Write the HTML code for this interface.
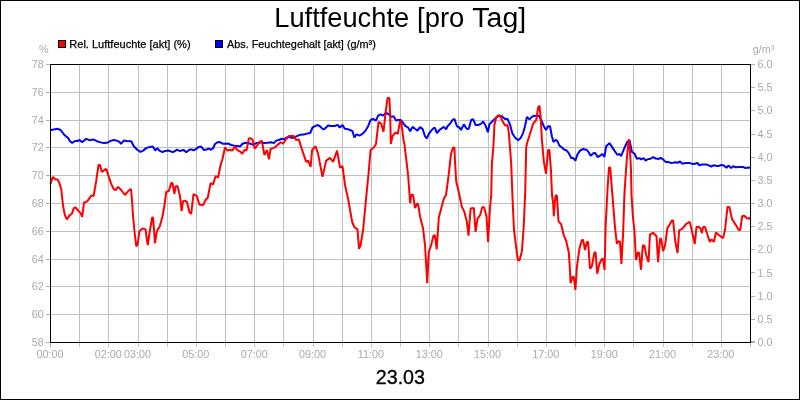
<!DOCTYPE html><html><head><meta charset="utf-8"><title>Luftfeuchte</title><style>html,body{margin:0;padding:0;background:#fff}svg{display:block;will-change:transform}text{font-family:"Liberation Sans",sans-serif}</style></head><body>
<svg width="800" height="400" viewBox="0 0 800 400">
<rect x="0" y="0" width="800" height="400" fill="#fff"/>
<rect x="0.5" y="0.5" width="799" height="399" fill="none" stroke="#000" stroke-width="1" shape-rendering="crispEdges"/>
<path d="M79.5 64V347M108.5 64V347M138.5 64V347M167.5 64V347M196.5 64V347M225.5 64V347M254.5 64V347M283.5 64V347M313.5 64V347M342.5 64V347M371.5 64V347M400.5 64V347M429.5 64V347M458.5 64V347M488.5 64V347M517.5 64V347M546.5 64V347M575.5 64V347M604.5 64V347M633.5 64V347M663.5 64V347M692.5 64V347M721.5 64V347M50 314.5H750M50 286.5H750M50 259.5H750M50 231.5H750M50 203.5H750M50 175.5H750M50 147.5H750M50 120.5H750M50 92.5H750" stroke="#c0c0c0" stroke-width="1" fill="none" shape-rendering="crispEdges"/>
<path d="M46 342.5H50M46 314.5H50M46 286.5H50M46 259.5H50M46 231.5H50M46 203.5H50M46 175.5H50M46 147.5H50M46 120.5H50M46 92.5H50M46 64.5H50M751 342.5H755M751 319.5H755M751 296.5H755M751 272.5H755M751 249.5H755M751 226.5H755M751 203.5H755M751 180.5H755M751 157.5H755M751 134.5H755M751 110.5H755M751 87.5H755M751 64.5H755M751 341.5H755M50.5 342V347M750.5 342V347" stroke="#b0b0b0" stroke-width="1" fill="none" shape-rendering="crispEdges"/>
<polyline points="50.5,130.2 51.0,130.0 57.8,128.8 60.6,130.0 64.4,135.0 68.1,138.1 70.0,141.2 72.2,142.9 75.0,141.0 77.5,141.0 79.6,140.0 82.2,142.2 86.2,138.8 89.8,140.4 91.9,139.8 94.4,139.8 96.9,141.2 100.0,142.1 103.8,143.1 106.9,142.8 111.2,140.6 113.8,140.0 117.5,140.9 119.4,141.9 121.0,143.8 123.8,140.6 126.9,141.0 131.2,141.2 133.8,146.2 137.5,150.0 140.6,151.9 143.1,150.6 146.2,148.1 150.0,146.9 152.8,146.6 155.2,150.6 157.2,148.1 159.4,150.6 162.5,152.1 165.0,150.9 168.8,150.6 172.5,152.1 174.4,151.5 176.9,149.6 179.4,151.0 183.8,150.0 186.2,152.2 189.0,150.0 191.2,149.4 193.5,150.2 195.6,149.4 198.8,146.9 201.2,146.6 203.8,150.0 206.9,149.4 208.8,148.5 211.0,149.8 213.1,148.1 215.0,144.0 217.5,142.2 220.0,142.1 223.1,143.8 225.6,143.8 227.8,143.4 231.2,145.0 235.0,145.9 237.5,145.9 240.0,146.5 242.5,143.8 245.6,142.8 250.0,143.5 253.1,144.8 256.2,143.1 260.0,142.2 263.8,143.1 267.5,142.8 271.2,142.2 273.8,143.1 276.2,140.6 279.4,139.8 281.9,138.8 283.8,139.4 286.2,137.8 288.8,136.9 291.2,137.8 293.8,137.8 296.9,136.2 300.0,134.8 303.8,134.6 307.5,133.4 310.2,133.1 312.5,127.5 315.0,126.2 317.9,125.0 320.6,126.9 323.1,129.4 325.0,128.5 328.1,125.6 331.2,125.9 335.0,125.9 337.5,124.8 339.8,127.5 342.5,125.0 344.8,128.8 347.5,129.1 350.0,130.0 352.5,131.2 354.4,137.5 356.5,134.4 359.4,135.6 362.5,133.8 365.6,130.6 368.1,126.2 370.6,120.0 373.1,119.0 376.0,120.6 378.1,115.6 380.6,114.4 383.1,115.6 386.2,112.8 388.8,114.4 391.2,116.9 393.5,116.2 396.2,120.6 398.1,119.8 400.6,120.0 402.5,122.2 405.0,125.6 408.1,127.5 410.2,131.2 412.5,126.9 415.0,128.8 417.5,130.6 420.0,127.2 422.5,128.8 425.0,136.2 426.9,138.5 428.8,133.8 431.2,130.6 433.8,127.9 435.0,128.1 436.9,133.1 439.4,130.0 443.8,126.9 446.2,129.4 447.5,126.2 450.0,123.8 452.5,120.0 454.4,118.8 456.9,126.2 459.4,127.5 461.0,130.0 463.8,124.4 466.9,129.0 468.8,128.8 471.2,120.0 473.1,119.1 475.6,125.0 478.1,125.0 481.0,123.8 483.1,121.5 485.6,125.6 487.9,132.2 489.4,124.4 492.5,121.2 496.2,117.5 499.4,115.6 501.9,116.2 505.0,119.0 507.5,119.0 510.0,124.4 512.5,133.8 515.0,137.5 518.1,140.2 520.6,138.1 523.1,133.1 525.0,126.2 526.9,116.9 529.4,119.4 531.9,116.9 534.4,115.6 536.9,116.2 538.8,115.6 541.2,120.0 543.8,126.2 546.0,130.0 548.1,126.2 550.0,126.2 551.9,136.2 553.5,141.9 555.6,140.0 557.2,140.6 559.4,145.6 561.9,147.5 564.4,149.8 566.2,150.2 568.8,153.1 571.2,158.1 573.1,157.9 575.4,160.6 577.5,154.4 580.0,150.6 583.1,149.0 586.9,150.0 588.8,152.5 590.6,155.9 593.1,153.5 595.0,152.8 597.8,157.1 600.0,155.6 602.5,154.0 604.4,156.9 606.2,146.2 609.4,143.1 611.2,145.6 614.4,150.6 617.5,155.0 619.4,153.8 621.2,156.0 623.8,149.4 626.9,142.5 629.4,140.0 631.0,147.5 631.9,151.9 634.4,153.5 636.9,158.8 639.4,158.1 641.2,159.4 643.5,158.1 645.6,160.6 648.1,159.0 650.0,159.0 653.1,157.2 655.6,158.5 658.5,159.0 660.6,157.8 663.1,159.4 665.6,161.9 668.1,161.9 670.6,162.9 673.1,162.8 675.6,162.2 677.5,162.8 680.0,161.5 682.5,163.8 685.0,163.1 690.0,163.1 692.5,164.0 695.0,163.8 697.2,162.8 699.4,165.2 702.5,164.4 706.2,164.4 708.8,165.4 711.2,166.5 714.0,165.2 716.2,165.9 718.8,165.9 721.2,165.0 723.8,165.4 726.5,167.8 728.5,165.4 731.2,167.9 733.1,166.2 735.6,167.2 738.8,167.0 743.1,167.0 745.6,168.1 748.1,167.5 750.0,167.8" fill="none" stroke="#0000ff" stroke-width="2" stroke-linejoin="bevel"/>
<polyline points="50.5,184.0 52.8,176.9 55.6,179.4 57.5,179.4 59.4,183.1 61.2,189.0 63.1,206.2 65.0,215.6 66.9,219.4 69.4,215.6 71.9,213.8 73.8,208.1 75.6,207.5 78.1,210.6 80.6,213.1 82.2,216.9 84.0,202.5 86.2,201.9 87.5,201.0 89.4,198.1 91.5,195.4 93.6,196.0 96.2,181.2 98.5,165.0 100.0,165.0 101.9,171.9 106.2,168.8 108.8,176.9 111.2,183.8 113.8,189.4 115.6,190.0 118.1,186.9 121.2,190.0 125.0,195.0 127.5,191.9 130.0,189.4 131.0,189.0 132.0,200.0 133.1,217.0 135.0,236.0 136.2,246.2 137.5,244.8 139.4,231.2 142.5,228.5 145.6,229.4 146.9,240.0 147.8,245.0 150.0,230.0 152.2,217.5 153.1,217.5 155.0,243.1 156.9,231.2 159.8,226.2 162.5,216.2 164.5,205.0 166.2,191.9 168.8,191.0 171.2,183.1 172.5,183.1 174.4,193.8 175.6,186.2 177.5,186.2 180.0,196.2 181.6,211.2 183.1,201.2 185.0,200.6 186.9,201.9 189.4,212.0 191.2,214.0 193.5,194.0 196.9,196.2 199.4,204.8 203.1,205.0 205.6,200.0 207.8,197.5 210.6,183.1 213.1,184.4 215.6,176.0 218.1,177.5 220.6,165.0 222.2,160.0 225.0,147.5 227.5,150.6 230.0,149.8 232.2,150.6 235.0,146.6 237.5,150.2 240.6,151.9 242.2,153.8 244.6,149.8 246.5,150.6 248.8,138.8 250.0,138.0 252.5,139.4 254.8,148.8 258.8,143.1 261.9,140.6 264.4,155.0 266.9,150.0 269.0,159.4 270.6,149.0 273.1,148.1 275.0,147.2 278.1,144.4 281.0,142.2 283.1,143.8 286.2,139.0 289.0,136.0 293.8,136.0 296.0,140.0 298.8,139.4 302.5,151.2 306.2,161.9 308.1,160.6 310.6,166.9 312.1,150.0 315.6,146.2 318.1,153.8 322.5,176.9 326.2,160.6 330.0,157.8 333.1,161.9 337.1,150.6 340.0,167.5 342.5,166.2 345.0,185.0 348.1,198.8 352.2,222.0 354.4,227.2 357.5,229.4 359.0,248.8 360.6,245.0 363.1,230.0 366.2,197.5 368.5,174.0 370.6,150.0 373.8,147.5 376.0,144.0 378.5,121.9 381.2,123.8 383.5,131.9 385.6,112.5 387.5,98.1 389.4,98.1 390.2,115.0 390.8,144.0 392.5,136.2 395.6,132.5 397.8,133.8 400.0,121.2 401.2,121.9 403.5,140.0 404.4,143.8 408.1,175.0 410.2,203.1 411.2,195.0 413.1,194.8 415.0,208.0 416.9,203.8 418.1,203.8 420.0,216.2 423.1,228.8 425.0,245.0 426.5,270.0 427.2,283.1 428.8,251.9 431.2,245.0 433.5,235.6 435.0,235.6 436.7,249.5 438.8,217.5 443.8,198.8 446.0,195.0 448.8,173.8 451.0,153.8 453.1,147.5 454.4,147.5 455.0,161.2 456.2,181.2 459.4,195.0 461.9,206.9 464.4,211.9 466.9,221.9 468.5,235.6 470.6,208.5 473.8,208.1 475.6,231.9 477.5,218.8 480.2,215.0 482.2,207.2 484.0,207.2 486.5,216.2 488.1,241.9 490.0,207.5 491.2,195.0 491.9,163.8 493.5,145.0 494.4,125.0 496.2,117.5 498.1,115.4 500.0,115.4 501.9,120.0 505.0,125.6 507.5,124.8 508.8,132.5 510.2,150.0 511.2,163.8 512.6,200.0 514.0,230.0 515.6,242.5 517.8,260.0 519.4,260.6 521.9,251.2 523.7,227.0 525.2,192.0 526.2,147.5 526.9,143.8 530.0,133.8 533.1,123.8 536.2,120.0 538.1,107.5 539.4,105.6 540.6,116.2 541.9,140.0 543.8,161.2 546.0,173.8 548.1,150.0 549.4,150.0 551.0,171.2 552.0,195.0 553.1,202.5 553.8,216.2 554.8,202.5 555.6,195.6 556.9,195.6 558.5,221.2 561.2,224.4 563.8,235.3 566.2,241.0 568.8,252.5 569.6,264.0 570.6,283.1 572.5,276.9 573.8,276.9 575.4,290.0 576.9,267.0 579.4,248.8 581.9,240.0 583.1,240.0 585.0,250.0 586.9,241.9 588.1,241.9 590.0,268.8 591.9,266.2 594.4,252.5 595.6,252.5 597.2,273.8 599.4,263.8 601.9,259.0 603.1,259.0 604.6,270.0 605.6,227.5 607.5,188.8 609.0,167.5 610.2,167.5 611.9,188.8 614.4,220.0 615.0,227.5 616.9,243.8 618.8,241.0 620.0,241.9 621.4,264.0 623.1,233.8 624.4,195.0 626.0,170.0 627.5,151.2 628.8,139.4 630.0,151.2 631.0,170.0 631.5,195.0 633.0,218.0 634.4,230.0 636.0,260.0 637.8,252.5 639.0,252.5 641.0,269.8 642.8,245.6 644.4,245.6 646.2,255.0 648.5,262.2 650.0,234.4 653.1,232.8 656.5,236.2 658.1,262.2 660.0,238.8 661.2,238.8 663.1,251.2 665.0,245.6 667.4,228.1 670.0,224.0 671.9,220.6 673.1,220.6 675.3,241.5 677.5,253.1 679.2,230.3 682.2,228.8 686.2,223.8 689.8,221.9 692.5,233.8 694.8,244.0 696.5,226.9 698.8,226.9 700.6,228.8 701.9,233.1 703.1,226.9 705.0,226.9 707.5,235.0 709.8,241.9 711.5,239.4 713.8,241.9 716.0,232.5 718.8,235.0 723.1,238.1 725.0,230.0 727.5,206.9 729.4,206.9 731.9,218.8 735.0,223.8 738.8,230.0 740.2,230.0 742.2,216.2 743.8,215.6 746.9,218.1 748.8,218.8 750.0,217.5" fill="none" stroke="#ff0000" stroke-width="2" stroke-linejoin="bevel"/>
<rect x="50.5" y="64.5" width="700" height="278" fill="none" stroke="#000" stroke-width="1" shape-rendering="crispEdges"/>
<g font-size="10.8" fill="#aaaaaa">
<text x="43.7" y="346.0" text-anchor="end">58</text>
<text x="43.7" y="318.2" text-anchor="end">60</text>
<text x="43.7" y="290.4" text-anchor="end">62</text>
<text x="43.7" y="262.6" text-anchor="end">64</text>
<text x="43.7" y="234.8" text-anchor="end">66</text>
<text x="43.7" y="207.0" text-anchor="end">68</text>
<text x="43.7" y="179.2" text-anchor="end">70</text>
<text x="43.7" y="151.4" text-anchor="end">72</text>
<text x="43.7" y="123.6" text-anchor="end">74</text>
<text x="43.7" y="95.8" text-anchor="end">76</text>
<text x="43.7" y="68.0" text-anchor="end">78</text>
<text x="757.5" y="346.0">0.0</text>
<text x="757.5" y="322.8">0.5</text>
<text x="757.5" y="299.7">1.0</text>
<text x="757.5" y="276.5">1.5</text>
<text x="757.5" y="253.3">2.0</text>
<text x="757.5" y="230.2">2.5</text>
<text x="757.5" y="207.0">3.0</text>
<text x="757.5" y="183.8">3.5</text>
<text x="757.5" y="160.7">4.0</text>
<text x="757.5" y="137.5">4.5</text>
<text x="757.5" y="114.3">5.0</text>
<text x="757.5" y="91.2">5.5</text>
<text x="757.5" y="68.0">6.0</text>
<text x="50.0" y="358" text-anchor="middle">00:00</text>
<text x="108.3" y="358" text-anchor="middle">02:00</text>
<text x="137.5" y="358" text-anchor="middle">03:00</text>
<text x="195.8" y="358" text-anchor="middle">05:00</text>
<text x="254.2" y="358" text-anchor="middle">07:00</text>
<text x="312.5" y="358" text-anchor="middle">09:00</text>
<text x="370.8" y="358" text-anchor="middle">11:00</text>
<text x="429.2" y="358" text-anchor="middle">13:00</text>
<text x="487.5" y="358" text-anchor="middle">15:00</text>
<text x="545.8" y="358" text-anchor="middle">17:00</text>
<text x="604.2" y="358" text-anchor="middle">19:00</text>
<text x="662.5" y="358" text-anchor="middle">21:00</text>
<text x="720.8" y="358" text-anchor="middle">23:00</text>
<text x="39" y="53">%</text>
<text x="752.8" y="53">g/m³</text>
</g>
<rect x="58.5" y="40.5" width="7" height="7" fill="#ff0000" stroke="#000" stroke-width="1" shape-rendering="crispEdges"/>
<rect x="215.5" y="40.5" width="7" height="7" fill="#0000ff" stroke="#000" stroke-width="1" shape-rendering="crispEdges"/>
<g font-size="11" fill="#000" stroke="#000" stroke-width="0.25"><text x="69.3" y="48" textLength="121.3" lengthAdjust="spacingAndGlyphs">Rel. Luftfeuchte [akt] (%)</text><text x="227" y="48" textLength="148.8" lengthAdjust="spacingAndGlyphs">Abs. Feuchtegehalt [akt] (g/m³)</text></g>
<text y="27" font-size="27.7" fill="#000"><tspan x="274.25" textLength="134.9" lengthAdjust="spacingAndGlyphs">Luftfeuchte</tspan> <tspan x="417.05" textLength="47.2" lengthAdjust="spacingAndGlyphs">[pro</tspan> <tspan x="472.35" textLength="53.78" lengthAdjust="spacingAndGlyphs">Tag]</tspan></text>
<text x="400.4" y="384" font-size="19.7" text-anchor="middle" fill="#000" stroke="#000" stroke-width="0.3">23.03</text>
</svg></body></html>
